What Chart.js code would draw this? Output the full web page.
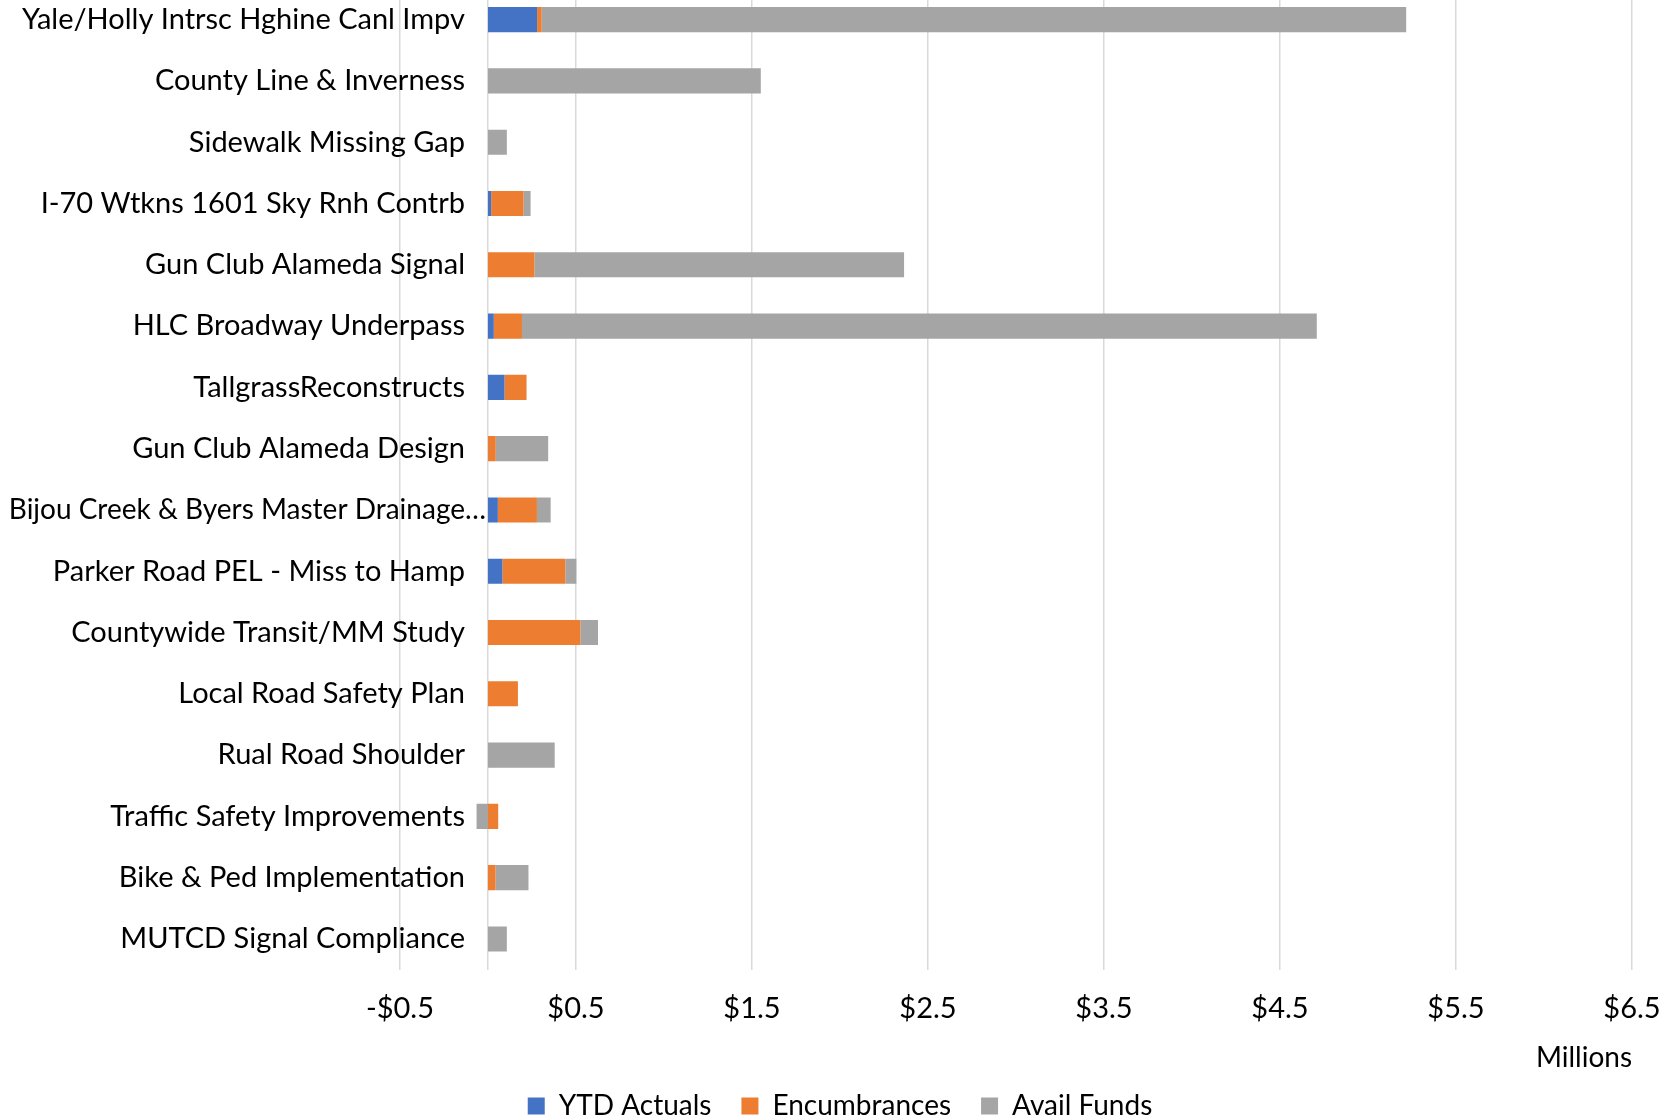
<!DOCTYPE html>
<html>
<head>
<meta charset="utf-8">
<script src="https://cdn.jsdelivr.net/npm/chart.js@4/dist/chart.umd.min.js"></script>
<style>
  html, body { margin: 0; padding: 0; background: #ffffff; overflow: hidden; }
  #wrap { position: relative; width: 1664px; height: 1120px; overflow: hidden; }
  #chart { position: absolute; left: 0; top: -11px; }
</style>
</head>
<body>
<div id="wrap"><canvas id="chart" width="1664" height="1141"></canvas></div>
<script>
// Project budget status, in millions of dollars
const projects = [
  'Yale/Holly Intrsc Hghine Canl Impv',
  'County Line & Inverness',
  'Sidewalk Missing Gap',
  'I-70 Wtkns 1601 Sky Rnh Contrb',
  'Gun Club Alameda Signal',
  'HLC Broadway Underpass',
  'TallgrassReconstructs',
  'Gun Club Alameda Design',
  'Bijou Creek & Byers Master Drainage\u2026',
  'Parker Road PEL - Miss to Hamp',
  'Countywide Transit/MM Study',
  'Local Road Safety Plan',
  'Rual Road Shoulder',
  'Traffic Safety Improvements',
  'Bike & Ped Implementation',
  'MUTCD Signal Compliance'
];

const ytdActuals   = [0.279, 0, 0, 0.018, 0, 0.033, 0.094, 0, 0.056, 0.082, 0, 0, 0, 0, 0, 0];
const encumbrances = [0.026, 0, 0, 0.184, 0.264, 0.160, 0.125, 0.044, 0.222, 0.358, 0.525, 0.170, 0, 0.058, 0.043, 0];
const availFunds   = [4.912, 1.550, 0.107, 0.040, 2.100, 4.516, 0, 0.298, 0.078, 0.062, 0.100, 0, 0.379, -0.065, 0.187, 0.107];

const xTickValues = [-0.5, 0.5, 1.5, 2.5, 3.5, 4.5, 5.5, 6.5];

const FONT = 'Lato, "Noto Sans", sans-serif';

// truncated names run right up to the zero axis, the rest keep a gap
const isTruncated = (name) => name.endsWith('\u2026');
const labelGap = (name) => (isTruncated(name) ? 2 : 23);

function money(v) {
  const s = '$' + Math.abs(v).toFixed(1);
  return v < 0 ? '-' + s : s;
}

new Chart(document.getElementById('chart'), {
  type: 'bar',
  data: {
    labels: projects,
    datasets: [
      { label: 'YTD Actuals', data: ytdActuals, backgroundColor: '#4472C4', xAxisID: 'x', yAxisID: 'y' },
      { label: 'Encumbrances', data: encumbrances, backgroundColor: '#ED7D31', xAxisID: 'x', yAxisID: 'y' },
      { label: 'Avail Funds', data: availFunds, backgroundColor: '#A5A5A5', xAxisID: 'x', yAxisID: 'y' }
    ]
  },
  options: {
    indexAxis: 'y',
    responsive: false,
    animation: false,
    layout: { padding: { left: 48, right: 32, top: 0, bottom: 0 } },
    datasets: {
      bar: {
        barPercentage: 0.41,
        categoryPercentage: 1,
        borderWidth: 0
      }
    },
    scales: {
      x: {
        stacked: true,
        min: -0.5,
        max: 6.5,
        afterBuildTicks: (scale) => { scale.ticks = xTickValues.map(v => ({ value: v })); },
        afterFit: (scale) => {
          // the end labels may hang past the plot edges
          scale.paddingLeft = 0;
          scale.paddingRight = 0;
        },
        grid: { color: '#d9d9d9', lineWidth: 1.5, drawTicks: false },
        border: { display: false },
        ticks: {
          padding: 22,
          color: '#000',
          font: { family: FONT, size: 29 },
          callback: (v) => money(v)
        },
        title: {
          display: true,
          text: 'Millions',
          align: 'end',
          color: '#000',
          font: { family: FONT, size: 28 },
          padding: { top: -7, bottom: -13 }
        }
      },
      y: {
        stacked: true,
        position: { x: 0 },
        grid: { display: false, drawTicks: false },
        border: { display: true, color: '#d9d9d9', width: 1.5 },
        ticks: {
          autoSkip: false,
          padding: 0,
          color: '#000',
          font: (ctx) => ({
            family: FONT,
            size: isTruncated(projects[ctx.index] || '') ? 28 : 29
          })
        },
        afterFit: (scale) => {
          scale.paddingTop = 0;
          scale.paddingBottom = 0;
        },
        afterUpdate: (scale) => {
          // names sit right-aligned against the zero axis; keep a gap before it
          if (!scale._gapPatched) {
            const compute = scale._computeLabelItems;
            scale._computeLabelItems = function (area) {
              const items = compute.call(this, area);
              items.forEach((it, i) => {
                it.options.translation[0] -= labelGap(projects[i] || '');
              });
              return items;
            };
            scale._gapPatched = true;
          }
        }
      },
      // empty left gutter that holds the space the category names spill into
      gutter: {
        type: 'category',
        axis: 'y',
        position: 'left',
        grid: { display: false, drawTicks: false },
        border: { display: false },
        ticks: { display: false },
        afterFit: (scale) => {
          scale.width = 352;
          scale.paddingTop = 0;
          scale.paddingBottom = 0;
        }
      }
    },
    plugins: {
      legend: {
        position: 'bottom',
        labels: {
          boxWidth: 17,
          boxHeight: 17,
          padding: 30,
          color: '#000',
          font: { family: FONT, size: 28 }
        }
      },
      tooltip: { enabled: false }
    }
  }
});
</script>
</body>
</html>
